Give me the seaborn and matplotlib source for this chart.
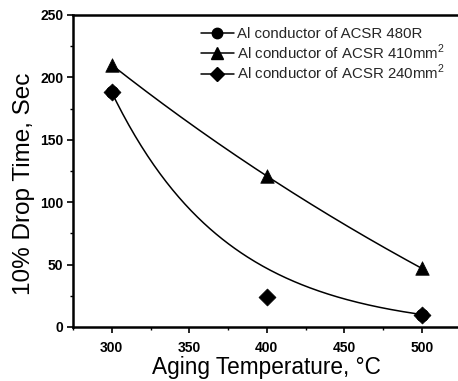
import numpy as np
import pandas as pd
import seaborn as sns
import matplotlib.pyplot as plt
from matplotlib.lines import Line2D
from matplotlib.ticker import MultipleLocator

# values
temps = [300, 400, 500]
drop_410 = [210, 121, 47]
drop_240 = [188, 24, 10]
temps_480r = [300, 500]
drop_480r = [188, 10]
curve_480r = [188, 47, 10]  # values of the fitted decay curve at temps

labels = ['Al conductor of ACSR 480R',
          'Al conductor of ACSR 410mm$^2$',
          'Al conductor of ACSR 240mm$^2$']


def exp_curve(y, x):
    # exponential decay through three equally spaced points
    y0, y1, y2 = y
    r = (y2 - y1) / (y1 - y0)
    c = (y0 * y2 - y1 ** 2) / (y0 + y2 - 2 * y1)
    return c + (y0 - c) * r ** ((x - temps[0]) / (temps[1] - temps[0]))


sns.set_theme(style='ticks')
plt.rcParams['font.family'] = ['Liberation Sans', 'DejaVu Sans']
plt.rcParams['mathtext.fontset'] = 'custom'
plt.rcParams['mathtext.rm'] = 'Liberation Sans'

fig = plt.figure(figsize=(4.58, 3.81), dpi=100)
ax = fig.add_axes([73 / 458, 54 / 381, 387.5 / 458, 312 / 381])

xs = np.linspace(300, 500, 200)
sns.lineplot(x=xs, y=exp_curve(curve_480r, xs), color='black', lw=1.1, ax=ax)
sns.lineplot(x=xs, y=exp_curve(drop_410, xs), color='black', lw=1.1, ax=ax)

pts = pd.concat([
    pd.DataFrame({'T': temps_480r, 'drop': drop_480r, 's': labels[0]}),
    pd.DataFrame({'T': temps, 'drop': drop_410, 's': labels[1]}),
    pd.DataFrame({'T': temps, 'drop': drop_240, 's': labels[2]}),
])
markers = {labels[0]: 'o', labels[1]: '^', labels[2]: 'D'}
sizes = {labels[0]: 80, labels[1]: 95, labels[2]: 75}
for name, grp in pts.groupby('s', sort=False):
    sns.scatterplot(data=grp, x='T', y='drop', marker=markers[name], s=sizes[name],
                    color='black', edgecolor='black', linewidth=0.5, ax=ax,
                    legend=False, zorder=3)

ax.set_xlim(275, 525)
ax.set_ylim(0, 250)
ax.xaxis.set_minor_locator(MultipleLocator(25))
ax.yaxis.set_major_locator(MultipleLocator(50))
ax.yaxis.set_minor_locator(MultipleLocator(25))
ax.set_xticks([300, 350, 400, 450, 500])
ax.tick_params(which='major', direction='out', length=4, width=1.2, labelsize=10,
               color='black', labelcolor='black')
ax.tick_params(axis='x', which='major', pad=6)
ax.tick_params(axis='y', which='major', pad=3)
ax.tick_params(which='minor', direction='out', length=2.5, width=1, color='black')
for lab in ax.get_xticklabels() + ax.get_yticklabels():
    lab.set_fontweight('bold')

for side in ['left', 'bottom', 'top', 'right']:
    ax.spines[side].set_visible(True)
    ax.spines[side].set_linewidth(1.8)
    ax.spines[side].set_color('black')

ax.set_xlabel('Aging Temperature, °C', fontsize=16.3, labelpad=1, color='black')
ax.set_ylabel('10% Drop Time, Sec', fontsize=17.5, color='black')
ax.yaxis.set_label_coords(-0.098, 0.46)

handles = [Line2D([], [], color='black', lw=1.1, marker=markers[l], markersize=ms,
                  markerfacecolor='black', markeredgecolor='black')
           for l, ms in zip(labels, [7.5, 9, 7])]
ax.legend(handles, labels, loc='upper left', bbox_to_anchor=(0.33, 0.962),
          frameon=False, fontsize=10.8, handlelength=2.2, handletextpad=0.2,
          labelspacing=0.1, borderaxespad=0, borderpad=0)

fig.savefig('out.png', dpi=100)
